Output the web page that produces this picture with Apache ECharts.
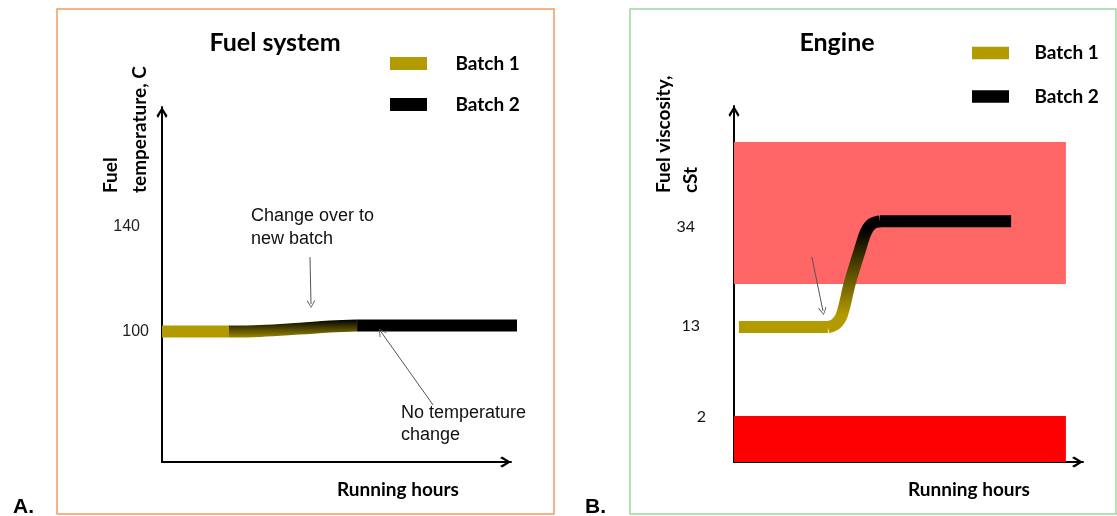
<!DOCTYPE html>
<html>
<head>
<meta charset="utf-8">
<script src="https://cdn.jsdelivr.net/npm/echarts@6/dist/echarts.min.js"></script>
<style>
html,body{margin:0;padding:0;background:#fff;}
#chart{width:1117px;height:516px;}
</style>
</head>
<body>
<div id="chart"></div>
<script>
// ---------- data (schematic units) ----------
// Panel A: fuel temperature (C) vs running hours (relative 0-100)
const tempTicks = [100, 140];
const batch1A = [[0, 100], [19.2, 100]];
const changeA = [[19.2, 100], [28.1, 100.2], [39.5, 101.1], [48.1, 101.9], [55.9, 102.3]];
const batch2A = [[55.9, 102.3], [103.4, 102.3]];
const arrowsA = [
  [[42.4, 128.5], [42.7, 110.5]],
  [[77.7, 71.8], [62.8, 99.8]]
];
// Panel B: fuel viscosity (schematic level 0-100) vs running hours
const viscTickLabels = ['2', '13', '34'];
const viscTickPos = [12.6, 38.2, 66.0];
const batch1B = [[1.4, 37.9], [26.9, 37.9]];
const changeB = [[26.9, 37.9], [29.2, 38.8], [30.9, 41.3], [33.2, 50.3], [36.1, 59.6], [37.8, 64.6], [39.5, 66.9], [41.8, 67.6]];
const batch2B = [[41.8, 67.6], [79.4, 67.6]];
const bandsB = [
  [0, 50.0, 95.1, 89.9],
  [0, 0, 95.1, 12.9]
];
const arrowsB = [
  [[22.3, 57.6], [25.5, 42.4]]
];

// ---------- styles ----------
const YEL = '#b29b00';
const BLK = '#000000';
const bandColors = ['#ff6666', '#ff0000'];
const ARIAL = '"Liberation Sans", Arial, sans-serif';
const CAL = 'Lato, "Open Sans", sans-serif';
const chevron = 'path://M50,0 L100,80 L86,100 L50,36 L14,100 L0,80 Z';
const chevronThin = 'path://M50,0 L100,88 L93,100 L50,16 L7,100 L0,88 Z';

const chart = echarts.init(document.getElementById('chart'), null, {renderer: 'canvas'});

function axisX(grid) {
  return {
    type: 'value', gridIndex: grid, min: 0, max: 100,
    axisLine: {show: true, onZero: false, symbol: ['none', chevron], symbolSize: [12, 11], symbolOffset: [0, -5.5],
      lineStyle: {color: '#000', width: 2}},
    axisTick: {show: false}, axisLabel: {show: false}, splitLine: {show: false}
  };
}
function lineSeries(name, data, xi, color, extra) {
  return Object.assign({
    type: 'line', name: name, data: data, xAxisIndex: xi, yAxisIndex: xi,
    symbol: 'none', z: 3, color: color, clip: false,
    itemStyle: {color: color},
    lineStyle: {color: color, width: 12, cap: 'butt', join: 'round'}
  }, extra || {});
}
function grad(stops) {
  return {type: 'linear', x: 0, y: 0, x2: 0, y2: 1, colorStops: stops};
}
function arrowSeries(data, xi) {
  return {
    type: 'lines', coordinateSystem: 'cartesian2d', xAxisIndex: xi, yAxisIndex: xi, z: 5,
    symbol: ['none', chevronThin], symbolSize: [9, 8],
    lineStyle: {color: '#555', width: 1, opacity: 1, curveness: 0},
    data: data.map(c => ({coords: c}))
  };
}
function legendAt(left, top, h, gap, pad) {
  return {
    orient: 'vertical', left: left, top: top, padding: 0, itemWidth: 37, itemHeight: h, itemGap: gap,
    icon: 'rect', selectedMode: false,
    data: [{name: 'Batch 1', itemStyle: {color: YEL}}, {name: 'Batch 2', itemStyle: {color: BLK}}],
    textStyle: {fontFamily: CAL, fontWeight: 'bold', fontSize: 19, color: '#000', padding: [0, 0, 0, pad]}
  };
}
function txt(x, y, text, font, align, extra) {
  return Object.assign({
    type: 'text', x: x, y: y, silent: true,
    style: Object.assign({text: text, font: font, fill: '#000', align: align || 'left', verticalAlign: 'middle'}, extra || {})
  });
}

const option = {
  backgroundColor: '#fff',
  animation: false,
  legend: [legendAt(390, 54, 13, 22, 23.5), legendAt(972, 43.5, 12.5, 24.5, 20.5)],
  grid: [
    {left: 162, top: 107, width: 349, height: 355},
    {left: 734, top: 106, width: 349, height: 356}
  ],
  xAxis: [axisX(0), axisX(1)],
  yAxis: [
    {
      type: 'value', gridIndex: 0, min: 50, max: 186,
      axisLine: {show: true, onZero: false, symbol: ['none', chevron], symbolSize: [12, 11], symbolOffset: [0, -5.5],
        lineStyle: {color: '#000', width: 2}},
      axisTick: {show: false}, splitLine: {show: false},
      axisLabel: {
        customValues: tempTicks, margin: 13, color: '#222', fontFamily: ARIAL, fontSize: 16,
        formatter: v => (v === 140 ? '{p|' + v + '}' : '{n|' + v + '}'),
        rich: {p: {padding: [0, 9, 0, 0], fontFamily: ARIAL, fontSize: 16, color: '#222'},
               n: {fontFamily: ARIAL, fontSize: 16, color: '#222'}}
      }
    },
    {
      type: 'value', gridIndex: 1, min: 0, max: 100,
      axisLine: {show: true, onZero: false, symbol: ['none', chevron], symbolSize: [12, 11], symbolOffset: [0, -5.5],
        lineStyle: {color: '#000', width: 2}},
      axisTick: {show: false}, splitLine: {show: false},
      axisLabel: {
        customValues: viscTickPos, margin: 28, color: '#111', fontFamily: CAL, fontSize: 16,
        formatter: v => {
          const i = viscTickPos.indexOf(v);
          return '{t' + i + '|' + viscTickLabels[i] + '}';
        },
        rich: {
          t0: {fontFamily: CAL, fontSize: 16, color: '#111'},
          t1: {fontFamily: CAL, fontSize: 16, color: '#111', padding: [0, 6, 0, 0]},
          t2: {fontFamily: CAL, fontSize: 16, color: '#111', padding: [0, 11, 0, 0]}
        }
      }
    }
  ],
  series: [
    lineSeries('Batch 1', batch1A, 0, YEL),
    lineSeries('Changeover A', changeA, 0, BLK, {smooth: 0.4,
      lineStyle: {width: 12, cap: 'butt', color: grad([{offset: 0, color: '#000'}, {offset: 1, color: '#9a8700'}])}}),
    lineSeries('Batch 2', batch2A, 0, BLK),
    arrowSeries(arrowsA, 0),
    {
      type: 'custom', name: 'Viscosity bands', xAxisIndex: 1, yAxisIndex: 1, z: 1,
      data: bandsB,
      renderItem: function (params, api) {
        const p0 = api.coord([api.value(0), api.value(3)]);
        const p1 = api.coord([api.value(2), api.value(1)]);
        return {type: 'rect', shape: {x: p0[0], y: p0[1], width: p1[0] - p0[0], height: p1[1] - p0[1]},
          style: {fill: bandColors[params.dataIndex]}};
      }
    },
    lineSeries('Batch 1', batch1B, 1, YEL),
    lineSeries('Changeover B', changeB, 1, BLK, {smooth: 0.35,
      lineStyle: {width: 12, cap: 'butt', join: 'round', color: grad([
        {offset: 0, color: '#000'}, {offset: 0.12, color: '#000'}, {offset: 0.85, color: YEL}, {offset: 1, color: YEL}])}}),
    lineSeries('Batch 2', batch2B, 1, BLK),
    arrowSeries(arrowsB, 1)
  ],
  graphic: [
    {type: 'rect', silent: true, z: -1, shape: {x: 57, y: 9, width: 497, height: 505},
      style: {fill: 'none', stroke: '#f59a5e', lineWidth: 1.5}},
    {type: 'rect', silent: true, z: -1, shape: {x: 630, y: 9, width: 486, height: 505},
      style: {fill: 'none', stroke: '#9fd89f', lineWidth: 1.5}},
    txt(275, 43, 'Fuel system', 'bold 25px ' + CAL, 'center'),
    txt(837, 43, 'Engine', 'bold 25px ' + CAL, 'center'),
    txt(398, 490, 'Running hours', 'bold 19px ' + CAL, 'center'),
    txt(969, 490, 'Running hours', 'bold 19px ' + CAL, 'center'),
    txt(13, 507, 'A.', 'bold 21px ' + ARIAL, 'left'),
    txt(585, 507, 'B.', 'bold 21px ' + ARIAL, 'left'),
    Object.assign(txt(125.5, 193, 'Fuel\ntemperature, C', 'bold 19px ' + CAL, 'left', {lineHeight: 29}), {rotation: Math.PI / 2}),
    Object.assign(txt(677.5, 193, 'Fuel viscosity,\ncSt', 'bold 19px ' + CAL, 'left', {lineHeight: 27}), {rotation: Math.PI / 2}),
    txt(251, 227.5, 'Change over to\nnew batch', '18px ' + ARIAL, 'left', {lineHeight: 23, fill: '#111'}),
    txt(401, 424, 'No temperature\nchange', '18px ' + ARIAL, 'left', {lineHeight: 22, fill: '#111'}),
    txt(750, 224, 'Change over\nto new batch', '18px ' + ARIAL, 'left', {lineHeight: 22, fill: '#111'})
  ]
};
chart.setOption(option);
</script>
</body>
</html>
